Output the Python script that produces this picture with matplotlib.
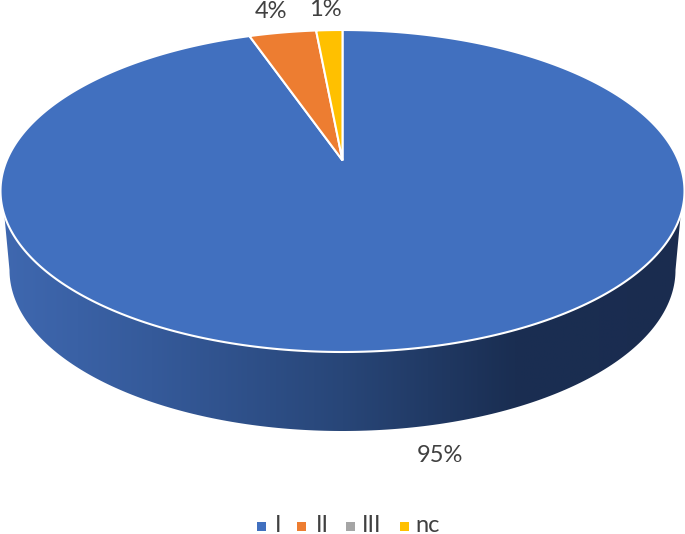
import numpy as np
import matplotlib
matplotlib.use('Agg')
import matplotlib.pyplot as plt
from matplotlib.patches import Polygon, Rectangle
from matplotlib.colors import LinearSegmentedColormap

categories = ['I', 'II', 'III', 'nc']
values = [94.7, 3.81, 0, 1.49]
labels = ['95%', '4%', '', '1%']
colors = ['#4170BF', '#ED7D31', '#A5A5A5', '#FFC000']

W, H = 685, 534
cx, cy = 342.5, 191
rx, ry = 342, 161
tilt = 0.19  # shifts the apex up, the 3D pie is drawn in perspective
text_color = '#404040'

plt.rcParams['font.family'] = ['Lato', 'DejaVu Sans']
fig = plt.figure(figsize=(W / 100, H / 100), dpi=100)
ax = fig.add_axes([0, 0, 1, 1])
ax.set_xlim(0, W)
ax.set_ylim(H, 0)
ax.axis('off')


def project(a):
    # circle angle (clockwise from top) to a point on the tilted top face
    u = np.sin(a)
    v = np.cos(a)
    d = 1 + tilt * v
    return cx + rx * u * np.sqrt(1 - tilt ** 2) / d, cy - ry * (v + tilt) / d


# side wall, the lower rim is a bit narrower than the top face
side = LinearSegmentedColormap.from_list(
    'side', [(0, '#3F68B0'), (0.22, '#355A9A'), (0.5, '#284678'), (0.75, '#1A2E52'), (1, '#1A2C4F')])
grad = np.linspace(0, 1, 256).reshape(1, -1)
im = ax.imshow(grad, cmap=side, extent=[cx - rx, cx + rx, cy + 240, cy], aspect='auto', zorder=1)
ax.set_xlim(0, W)
ax.set_ylim(H, 0)
t = np.linspace(0, np.pi, 200)
t_top = np.linspace(0.15, np.pi - 0.15, 200)
wall = np.vstack([
    np.c_[cx + 333 * np.cos(t), 270 + ry * np.sin(t)],
    np.c_[cx + rx * np.cos(t_top[::-1]), cy + ry * np.sin(t_top[::-1])],
])
wall_patch = Polygon(wall, closed=True, transform=ax.transData, fc='none', ec='none')
ax.add_patch(wall_patch)
im.set_clip_path(wall_patch)

# top face, clockwise from 12 o'clock
apex = (cx, cy - ry * tilt)
total = sum(values)
start = 0
for v, c in zip(values, colors):
    if v == 0:
        continue
    a = np.linspace(start, start + v / total * 2 * np.pi, 400)
    xs, ys = project(a)
    pts = np.vstack([apex, np.c_[xs, ys]])
    ax.add_patch(Polygon(pts, closed=True, fc=c, ec='white', lw=1.5, zorder=2))
    start = a[-1]

ax.text(440, 456, labels[0], ha='center', va='center', fontsize=17, color=text_color)
ax.text(271, 11, labels[1], ha='center', va='center', fontsize=17, color=text_color)
ax.text(325, 9.5, labels[3], ha='center', va='center', fontsize=17, color=text_color)

# legend
for name, c, sx, tx in zip(categories, colors, [257, 297, 346, 400], [278, 322, 372, 428]):
    ax.add_patch(Rectangle((sx, 522), 9, 9, fc=c, ec='none', zorder=3))
    ax.text(tx, 525, name, ha='center', va='center', fontsize=17, color=text_color)

fig.savefig('out.png', dpi=100)
